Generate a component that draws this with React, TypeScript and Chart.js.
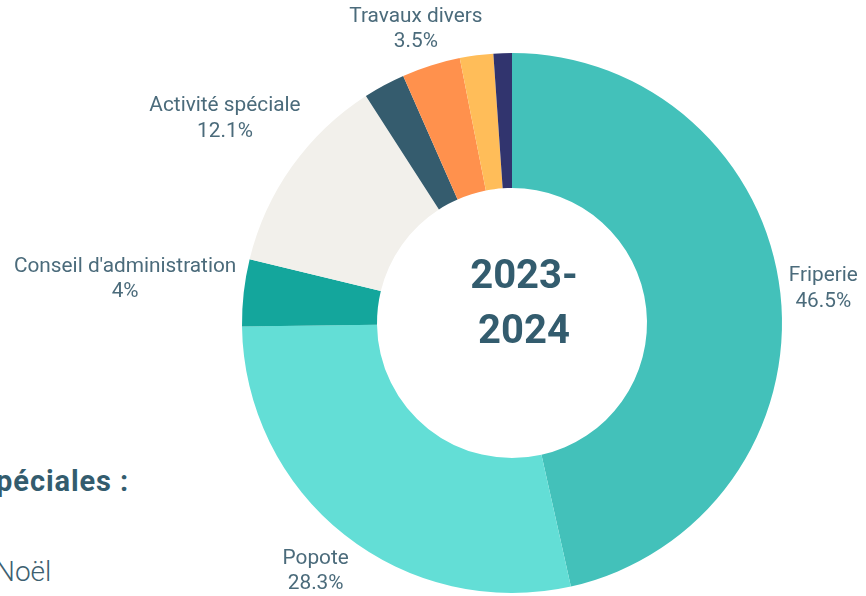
import React, { useEffect, useRef } from "react";
import { Chart, registerables } from "chart.js";

Chart.register(...registerables);

const categories = [
  "Friperie",
  "Popote",
  "Conseil d'administration",
  "Activité spéciale",
  "",
  "Travaux divers",
  "",
  "",
];
const shares = [46.5, 28.3, 4, 12.1, 2.5, 3.5, 2.0, 1.1];
const sliceColors = [
  "#43C1BA",
  "#63DED6",
  "#14A69C",
  "#F2F0EB",
  "#355C6E",
  "#FF914D",
  "#FFBD59",
  "#31346E",
];
const centerLines = ["2023-", "2024"];

const LABEL_FONT = "20.8px Roboto";
const LABEL_COLOR = "#4B6B7B";
const LINE_H = 25.5;

const labelPlugin = {
  id: "outerLabels",
  afterDatasetsDraw(chart: any) {
    const ctx = chart.ctx as CanvasRenderingContext2D;
    const meta = chart.getDatasetMeta(0);
    const data = chart.data.datasets[0].data as number[];
    const labels = chart.data.labels as string[];
    ctx.save();
    ctx.font = LABEL_FONT;
    ctx.fillStyle = LABEL_COLOR;
    ctx.textAlign = "center";
    ctx.textBaseline = "middle";
    meta.data.forEach((arc: any, i: number) => {
      const name = labels[i];
      if (!name) return;
      const p = arc.getProps(["x", "y", "startAngle", "endAngle", "outerRadius"], true);
      const mid = (p.startAngle + p.endAngle) / 2;
      const vx = Math.cos(mid);
      const vy = Math.sin(mid);
      const pct = `${+Number(data[i]).toFixed(1)}%`;
      const lines = [name, pct];
      const w = Math.max(...lines.map((l) => ctx.measureText(l).width));
      const h = lines.length * LINE_H;
      const r = p.outerRadius + 6 + Math.abs((w / 2) * vx) + Math.abs((h / 2) * vy);
      const cx = p.x + r * vx;
      let cy = p.y + r * vy;
      if (cy - h / 2 < 4) cy = 4 + h / 2;
      lines.forEach((l, k) => {
        ctx.fillText(l, cx, cy + (k - (lines.length - 1) / 2) * LINE_H);
      });
    });
    const a = meta.data[0];
    if (a) {
      ctx.font = "bold 40px Roboto";
      ctx.fillStyle = "#335C6E";
      ctx.textBaseline = "alphabetic";
      ctx.fillText(centerLines[0], a.x + 12, a.y - 35);
      ctx.fillText(centerLines[1], a.x + 12, a.y + 20);
    }
    ctx.restore();
  },
};

export default function App() {
  const ref = useRef<HTMLCanvasElement | null>(null);
  useEffect(() => {
    if (!ref.current) return;
    const chart = new Chart(ref.current, {
      type: "doughnut",
      data: {
        labels: categories,
        datasets: [
          {
            data: shares,
            backgroundColor: sliceColors,
            borderWidth: 0,
            hoverOffset: 0,
          },
        ],
      },
      options: {
        responsive: false,
        animation: false,
        cutout: "50%",
        layout: { padding: { left: 242, right: 84, top: 53, bottom: 3 } },
        plugins: {
          legend: { display: false },
          tooltip: { enabled: false },
        },
      },
      plugins: [labelPlugin],
    });
    return () => chart.destroy();
  }, []);

  return (
    <div
      style={{
        position: "fixed",
        left: 0,
        top: 0,
        width: 866,
        height: 596,
        overflow: "hidden",
        background: "#fff",
        fontFamily: "Roboto, sans-serif",
      }}
    >
      <div
        style={{
          position: "absolute",
          right: 737,
          top: 467,
          whiteSpace: "nowrap",
          fontSize: 29,
          lineHeight: 1,
          fontWeight: 700,
          letterSpacing: "0.9px",
          color: "#335C6E",
        }}
      >
        Activités spéciales :
      </div>
      <div
        style={{
          position: "absolute",
          left: -5,
          top: 558,
          whiteSpace: "nowrap",
          fontSize: 28,
          lineHeight: 1,
          fontWeight: 300,
          color: "#3D5F70",
        }}
      >
        Noël
      </div>
      <canvas
        ref={ref}
        width={866}
        height={596}
        style={{ position: "absolute", left: 0, top: 0, width: 866, height: 596 }}
      />
    </div>
  );
}
